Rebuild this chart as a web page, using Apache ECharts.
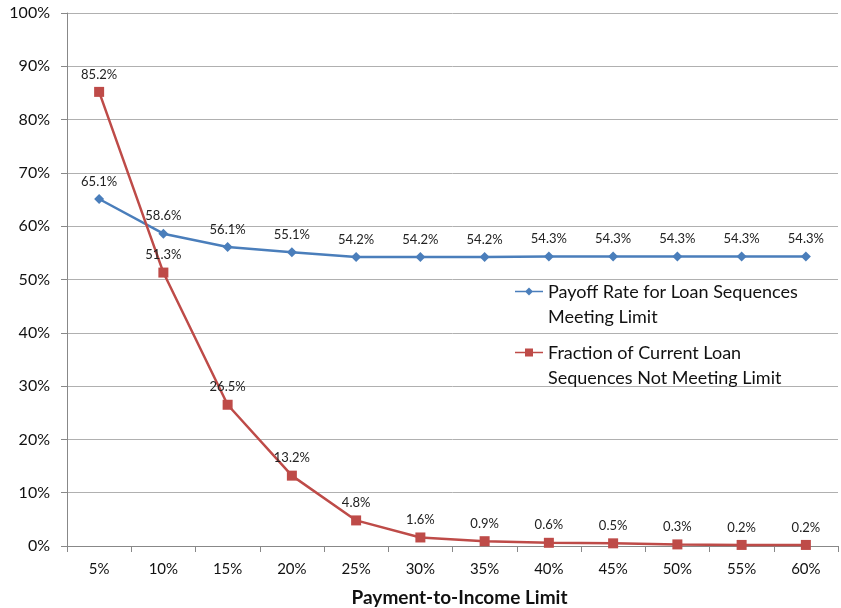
<!DOCTYPE html>
<html>
<head>
<meta charset="utf-8">
<script src="https://cdn.jsdelivr.net/npm/echarts@6/dist/echarts.min.js"></script>
<style>
  html, body { margin: 0; padding: 0; background: #fff; }
  #chart { width: 841px; height: 608px; }
</style>
</head>
<body>
<div id="chart"></div>
<script>
// Payment-to-income limits on the x axis
const categories = ['5%', '10%', '15%', '20%', '25%', '30%', '35%', '40%', '45%', '50%', '55%', '60%'];
// Payoff rate (percent) for loan sequences meeting each limit
const payoffRate = [65.1, 58.6, 56.1, 55.1, 54.2, 54.2, 54.2, 54.3, 54.3, 54.3, 54.3, 54.3];
// Fraction (percent) of current loan sequences not meeting each limit
const fractionNotMeeting = [85.2, 51.3, 26.5, 13.2, 4.8, 1.6, 0.9, 0.6, 0.5, 0.3, 0.2, 0.2];

const seriesNames = [
  'Payoff Rate for Loan Sequences\nMeeting Limit',
  'Fraction of Current Loan\nSequences Not Meeting Limit'
];

const FONT = 'Lato, "Open Sans", sans-serif';

// Legend keys: a line with the series marker, sitting at the top of a 28x36 box
// (a tiny anchor square at the bottom keeps the box height) so that the key
// lines up with the first line of the wrapped legend text.
const ANCHOR = 'M0,35.9 L0.1,35.9 L0.1,36 L0,36 Z';
const iconDiamond = 'path://M0,4.2 L28,4.2 L28,5.8 L0,5.8 Z M14,1 L18,5 L14,9 L10,5 Z ' + ANCHOR;
const iconSquare = 'path://M0,4.2 L28,4.2 L28,5.8 L0,5.8 Z M10,1 L18,1 L18,9 L10,9 Z ' + ANCHOR;

const chart = echarts.init(document.getElementById('chart'), null, { renderer: 'canvas' });

const labelStyle = {
  show: true,
  position: 'top',
  distance: 6,
  fontFamily: FONT,
  fontSize: 13,
  color: '#222',
  formatter: p => p.value.toFixed(1) + '%'
};

chart.setOption({
  animation: false,
  backgroundColor: '#fff',
  grid: { left: 67, right: 3, top: 13, bottom: 62, containLabel: false, outerBoundsMode: 'none' },
  legend: {
    orient: 'vertical',
    left: 515,
    top: 280,
    padding: 0,
    itemGap: 11,
    itemWidth: 28,
    itemHeight: 36,
    textStyle: { fontFamily: FONT, fontSize: 18, color: '#111', lineHeight: 25 },
    data: [
      { name: seriesNames[0], icon: iconDiamond },
      { name: seriesNames[1], icon: iconSquare }
    ]
  },
  xAxis: {
    type: 'category',
    data: categories,
    name: 'Payment-to-Income Limit',
    nameLocation: 'middle',
    nameGap: 42,
    nameTextStyle: { fontFamily: FONT, fontSize: 19, fontWeight: 'bold', color: '#111', padding: [0, 0, 0, 14] },
    axisLine: { lineStyle: { color: '#888', width: 1 } },
    axisTick: { show: true, alignWithLabel: false, length: 6, lineStyle: { color: '#888' } },
    axisLabel: { fontFamily: FONT, fontSize: 15, color: '#111', margin: 16 },
    splitLine: { show: false }
  },
  yAxis: {
    type: 'value',
    min: 0,
    max: 100,
    interval: 10,
    axisLine: { show: true, lineStyle: { color: '#888', width: 1 } },
    axisTick: { show: true, length: 6, lineStyle: { color: '#888' } },
    axisLabel: { fontFamily: FONT, fontSize: 16, color: '#111', margin: 17, formatter: v => v + '%' },
    splitLine: { show: true, lineStyle: { color: '#b0b0b0', width: 1 } }
  },
  series: [
    {
      name: seriesNames[0],
      type: 'line',
      data: payoffRate,
      symbol: 'diamond',
      symbolSize: 10,
      lineStyle: { color: '#4a7ebb', width: 2.5 },
      itemStyle: { color: '#4a7ebb' },
      label: labelStyle,
      z: 3
    },
    {
      name: seriesNames[1],
      type: 'line',
      data: fractionNotMeeting,
      symbol: 'rect',
      symbolSize: 10,
      lineStyle: { color: '#be4b48', width: 2.5 },
      itemStyle: { color: '#be4b48' },
      label: labelStyle,
      z: 4
    }
  ]
});
</script>
</body>
</html>
